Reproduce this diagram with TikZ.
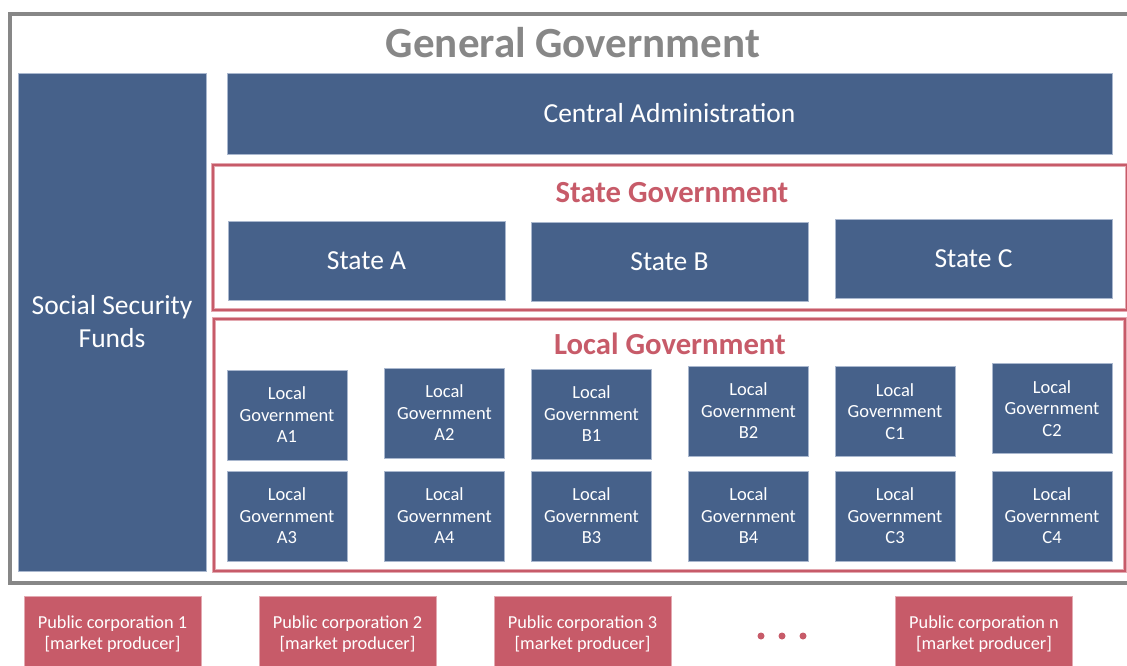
\documentclass[tikz,border=0pt]{standalone}
\usepackage{fontspec}
\setmainfont{Carlito}
\definecolor{gblue}{HTML}{46618A}
\definecolor{gred}{HTML}{C75B69}
\definecolor{ggray}{HTML}{878787}
\definecolor{gpink}{HTML}{E3A9B1}
\definecolor{gedge}{HTML}{A9B7CE}
\begin{document}
\begin{tikzpicture}[x=1pt,y=-1pt,
  bluebox/.style={fill=gblue,draw=gedge,line width=0.8pt,text=white,align=center,inner sep=0pt},
  locbox/.style={bluebox,minimum width=120pt,minimum height=90pt,font=\fontsize{18.5}{21.5}\selectfont},
  statebox/.style={bluebox,minimum width=277pt,minimum height=79pt,font=\fontsize{27.5}{30}\selectfont},
  corpbox/.style={fill=gred,draw=gpink,line width=0.6pt,text=white,align=center,inner sep=0pt,minimum width=177pt,minimum height=76pt,font=\fontsize{18.3}{21}\selectfont},
  redframe/.style={draw=gpink,line width=3.2pt},
  redline/.style={draw=gred,line width=1.8pt},
  redtitle/.style={text=gred,font=\fontsize{30.7}{33}\selectfont\bfseries},
  dot/.style={circle,fill=gred,inner sep=0pt,minimum size=7pt}]
\useasboundingbox (0,0) rectangle (1127,666);
% outer gray frame
\draw[ggray,line width=4pt] (10,14) rectangle (1140,583);
\node[text=ggray,font=\fontsize{43}{45}\selectfont\bfseries] (gg) at (573,43) {General Government};
% social security
\node[bluebox,minimum width=188pt,minimum height=498pt,font=\fontsize{27.5}{33}\selectfont] (ssf) at (112,322) {Social Security\\Funds};
% central administration
\node[bluebox,minimum width=885pt,minimum height=81pt,font=\fontsize{27.5}{30}\selectfont] (ca) at (669.5,113.5) {Central Administration};
% state government frame
\draw[redframe] (213,165) rectangle (1127,310);
\draw[redline] (213,165) rectangle (1127,310);
\node[redtitle] (sg) at (672,193) {State Government};
\node[statebox] (sa) at (366.5,261) {State A};
\node[statebox] (sb) at (669.5,262) {State B};
\node[statebox] (sc) at (973.5,259) {State C};
% local government frame
\draw[redframe] (214,319) rectangle (1125,571);
\draw[redline] (214,319) rectangle (1125,571);
\node[redtitle] (lg) at (670,344) {Local Government};
\node[locbox] (a1) at (287,415) {Local\\Government\\A1};
\node[locbox] (a2) at (444.5,413) {Local\\Government\\A2};
\node[locbox] (b1) at (591.5,414) {Local\\Government\\B1};
\node[locbox] (b2) at (748.5,411) {Local\\Government\\B2};
\node[locbox] (c1) at (895,411.5) {Local\\Government\\C1};
\node[locbox] (c2) at (1052,408.5) {Local\\Government\\C2};
\node[locbox] (a3) at (287,516) {Local\\Government\\A3};
\node[locbox] (a4) at (444.5,516) {Local\\Government\\A4};
\node[locbox] (b3) at (591.5,516) {Local\\Government\\B3};
\node[locbox] (b4) at (748.5,516) {Local\\Government\\B4};
\node[locbox] (c3) at (895,516) {Local\\Government\\C3};
\node[locbox] (c4) at (1052,516) {Local\\Government\\C4};
% public corporations
\node[corpbox] (p1) at (112.5,634) {Public corporation 1\\{[market producer]}};
\node[corpbox] (p2) at (347.5,634) {Public corporation 2\\{[market producer]}};
\node[corpbox] (p3) at (582.5,634) {Public corporation 3\\{[market producer]}};
\node[corpbox] (pn) at (984,634) {Public corporation n\\{[market producer]}};
\node[dot] (d1) at (761,636) {};
\node[dot] (d2) at (782,636) {};
\node[dot] (d3) at (803,636) {};
\end{tikzpicture}
\end{document}
